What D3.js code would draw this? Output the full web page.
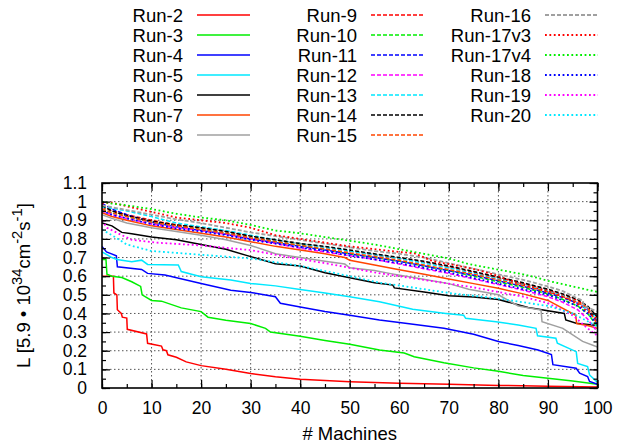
<!DOCTYPE html>
<html>
<head>
<meta charset="utf-8">
<script src="https://cdn.jsdelivr.net/npm/d3@7"></script>
<style>
  body { margin: 0; background: #fff; }
  text { font-family: "Liberation Sans", Arial, Helvetica, sans-serif; }
</style>
</head>
<body>
<div id="chart"></div>
<script>
// luminosity vs number of machines, one array per run: [machine, L]
var run2 = [[0,0.60],[2.3,0.60],[2.4,0.51],[3.0,0.50],[3.1,0.42],[3.9,0.40],[4.1,0.38],[5.0,0.375],[5.1,0.315],[9.0,0.29],[9.2,0.24],[12.0,0.225],[12.3,0.205],[13.0,0.20],[13.3,0.178],[15,0.165],[17,0.14],[20,0.12],[25,0.10],[30,0.078],[35,0.06],[40,0.047],[45,0.04],[50,0.034],[55,0.03],[60,0.026],[70,0.02],[80,0.014],[90,0.01],[100,0.006]];
var run3 = [[0,0.69],[0.8,0.69],[1.0,0.61],[2,0.60],[4,0.593],[6,0.57],[7.8,0.545],[8.1,0.50],[10,0.47],[12,0.466],[16,0.43],[20,0.41],[21.4,0.38],[25,0.364],[30,0.346],[33,0.32],[34,0.30],[40,0.278],[45,0.255],[50,0.235],[56,0.204],[61,0.188],[63,0.168],[69,0.135],[75,0.108],[80,0.09],[85,0.067],[90,0.052],[95,0.038],[100,0.02]];
var run4 = [[0,0.76],[0.9,0.73],[2.9,0.71],[3.1,0.65],[8,0.636],[9.2,0.615],[12.7,0.606],[20,0.561],[26,0.525],[30,0.513],[35,0.49],[36,0.455],[40,0.435],[45,0.41],[50,0.39],[56,0.365],[62,0.345],[69,0.32],[75,0.288],[80,0.25],[84,0.228],[88,0.204],[90.7,0.18],[91,0.125],[95.7,0.106],[96.4,0.08],[98,0.062],[98.4,0.035],[100,0.02]];
var run5 = [[0,0.73],[2,0.70],[3,0.69],[6,0.678],[8,0.686],[9.2,0.663],[15.4,0.66],[16,0.625],[20,0.597],[26,0.579],[30,0.561],[35,0.548],[40,0.529],[45,0.51],[50,0.49],[56,0.463],[62.7,0.422],[69.4,0.40],[73,0.39],[73.4,0.374],[79.5,0.356],[84,0.338],[87.6,0.32],[87.9,0.28],[91.6,0.267],[91.9,0.24],[95.7,0.195],[96,0.132],[98,0.115],[98.4,0.07],[100,0.03]];
var run6 = [[0,0.885],[2,0.87],[4,0.835],[6,0.828],[10,0.81],[15,0.795],[20,0.77],[25,0.745],[30,0.705],[35,0.667],[40,0.655],[45,0.618],[50,0.592],[55,0.565],[58.7,0.552],[59,0.537],[65,0.515],[70,0.495],[75,0.488],[80,0.475],[86,0.432],[93.3,0.40],[93.6,0.365],[95.7,0.348],[100,0.335]];
var run7 = [[0,0.94],[2,0.92],[5,0.90],[10,0.87],[15,0.85],[20,0.83],[25,0.81],[30,0.785],[35,0.76],[40,0.74],[45,0.72],[49,0.70],[50,0.685],[55,0.66],[60,0.635],[65,0.61],[70,0.585],[75,0.56],[80,0.535],[85,0.505],[90,0.47],[95.6,0.39],[95.8,0.345],[98,0.335],[100,0.32]];
var run8 = [[0,0.93],[2,0.91],[5,0.885],[10,0.86],[15,0.84],[20,0.82],[25,0.795],[30,0.765],[35,0.72],[40,0.70],[45,0.68],[49,0.665],[50,0.645],[55,0.63],[58,0.615],[64,0.588],[70,0.56],[74,0.53],[80,0.50],[84,0.44],[88.6,0.418],[88.8,0.356],[93,0.32],[97,0.25],[100,0.22]];
var run9 = [[0,0.97],[2,0.95],[5,0.93],[10,0.90],[15,0.875],[20,0.86],[25,0.84],[30,0.815],[35,0.795],[40,0.775],[45,0.755],[50,0.735],[55,0.715],[60,0.695],[65,0.675],[70,0.65],[75,0.62],[80,0.59],[85,0.56],[90,0.525],[93,0.50],[96,0.47],[98,0.43],[100,0.36]];
var run10 = [[0,0.96],[2,0.94],[5,0.92],[10,0.89],[15,0.87],[20,0.85],[25,0.83],[30,0.805],[35,0.785],[40,0.765],[45,0.745],[50,0.72],[55,0.70],[60,0.68],[65,0.655],[70,0.63],[75,0.60],[80,0.57],[85,0.54],[90,0.505],[93,0.475],[96,0.44],[98,0.40],[100,0.33]];
var run11 = [[0,0.99],[2,0.96],[5,0.93],[10,0.89],[15,0.865],[20,0.845],[25,0.825],[30,0.80],[35,0.78],[40,0.76],[45,0.74],[50,0.72],[55,0.70],[60,0.68],[65,0.655],[70,0.63],[75,0.605],[80,0.575],[85,0.545],[90,0.51],[93,0.485],[96,0.455],[98,0.42],[100,0.35]];
var run12 = [[0,0.95],[2,0.93],[5,0.91],[10,0.88],[15,0.86],[20,0.845],[25,0.825],[30,0.80],[35,0.775],[40,0.75],[45,0.73],[50,0.71],[55,0.69],[60,0.665],[65,0.64],[70,0.615],[75,0.585],[80,0.555],[85,0.525],[90,0.49],[93,0.46],[96,0.42],[98,0.37],[100,0.30]];
var run13 = [[0,0.97],[2,0.965],[5,0.95],[10,0.92],[15,0.885],[20,0.865],[25,0.845],[30,0.82],[35,0.795],[40,0.775],[45,0.755],[50,0.735],[55,0.715],[60,0.695],[65,0.67],[70,0.645],[75,0.615],[80,0.585],[85,0.555],[90,0.52],[93,0.495],[96,0.46],[98,0.42],[100,0.37]];
var run14 = [[0,0.98],[2,0.95],[5,0.925],[10,0.895],[15,0.875],[20,0.86],[25,0.84],[30,0.815],[35,0.795],[40,0.775],[45,0.76],[50,0.74],[55,0.72],[60,0.70],[65,0.68],[70,0.655],[75,0.625],[80,0.595],[85,0.565],[90,0.53],[93,0.505],[96,0.475],[98,0.44],[100,0.38]];
var run15 = [[0,0.96],[2,0.94],[5,0.92],[10,0.89],[15,0.87],[20,0.85],[25,0.83],[30,0.805],[35,0.785],[40,0.765],[45,0.745],[50,0.725],[55,0.705],[60,0.685],[65,0.66],[70,0.635],[75,0.61],[80,0.58],[85,0.55],[90,0.515],[93,0.49],[96,0.46],[98,0.43],[100,0.34]];
var run16 = [[0,0.98],[2,0.97],[5,0.955],[10,0.93],[15,0.905],[20,0.885],[25,0.86],[30,0.835],[35,0.815],[40,0.795],[45,0.775],[50,0.755],[55,0.735],[60,0.72],[65,0.70],[70,0.67],[75,0.64],[80,0.61],[85,0.58],[90,0.545],[93,0.52],[96,0.48],[97,0.47],[97.3,0.44],[100,0.41]];
var run17v3 = [[0,0.99],[2,0.995],[5,0.975],[10,0.945],[15,0.915],[20,0.90],[25,0.885],[30,0.86],[35,0.82],[40,0.80],[45,0.78],[50,0.76],[55,0.745],[60,0.73],[63,0.723],[66.8,0.68],[70,0.665],[76,0.633],[80,0.60],[82,0.58],[85,0.555],[90,0.52],[93,0.49],[96,0.45],[98,0.41],[100,0.37]];
var run17v4 = [[0,1.0],[2,0.99],[5,0.98],[10,0.96],[15,0.935],[20,0.915],[25,0.90],[30,0.875],[35,0.845],[40,0.83],[45,0.81],[50,0.79],[55,0.77],[60,0.745],[65,0.72],[70,0.695],[74,0.665],[80,0.635],[85,0.61],[88,0.59],[90,0.575],[95,0.545],[100,0.515]];
var run18 = [[0,0.95],[2,0.93],[5,0.91],[10,0.88],[15,0.855],[20,0.84],[25,0.82],[30,0.795],[35,0.775],[40,0.755],[45,0.735],[50,0.71],[55,0.69],[60,0.67],[65,0.645],[70,0.62],[75,0.59],[80,0.56],[85,0.53],[90,0.50],[93,0.47],[96,0.44],[98,0.40],[100,0.34]];
var run19 = [[0,0.90],[1,0.86],[4,0.82],[6,0.795],[11,0.78],[20,0.765],[25,0.752],[30,0.74],[38,0.70],[45,0.67],[50,0.645],[55,0.62],[60,0.60],[65,0.58],[70,0.56],[75,0.54],[80,0.515],[85,0.49],[90,0.455],[95,0.39],[98,0.32],[100,0.28]];
var run20 = [[0,0.85],[2,0.82],[5,0.77],[10,0.735],[20,0.715],[30,0.695],[40,0.655],[50,0.60],[56,0.565],[60,0.55],[70,0.51],[80,0.48],[90,0.44],[95,0.40],[100,0.33]];

var runNames = ["Run-2","Run-3","Run-4","Run-5","Run-6","Run-7","Run-8",
                "Run-9","Run-10","Run-11","Run-12","Run-13","Run-14","Run-15",
                "Run-16","Run-17v3","Run-17v4","Run-18","Run-19","Run-20"];
var runData = [run2,run3,run4,run5,run6,run7,run8,
               run9,run10,run11,run12,run13,run14,run15,
               run16,run17v3,run17v4,run18,run19,run20];
var xTicks = [0,10,20,30,40,50,60,70,80,90,100];
var yTicks = [0,0.1,0.2,0.3,0.4,0.5,0.6,0.7,0.8,0.9,1,1.1];

// styles (gnuplot-like)
var runColors = ["#ff0000","#00ee00","#0000ff","#00e8ff","#000000","#ff4500","#a0a0a0",
                 "#ff0000","#00ee00","#0000ff","#ff00ff","#00e8ff","#000000","#ff4500",
                 "#a0a0a0","#ff0000","#00ee00","#0000ff","#ff00ff","#00e8ff"];
var runDash = runNames.map(function(d, i) {
  if (i < 7) return null;
  if (i < 15) return "4,2";
  return "1.8,2.6";
});

var W = 618, H = 447;
var plot = {left: 102, right: 597.5, top: 183, bottom: 388};
var FS = 18.5, TFS = 17.5;

var svg = d3.select("#chart").append("svg")
  .attr("width", W).attr("height", H);

var x = d3.scaleLinear().domain([0, 100]).range([plot.left, plot.right]);
var y = d3.scaleLinear().domain([0, 1.1]).range([plot.bottom, plot.top]);

// grid
var grid = svg.append("g").attr("stroke", "#555").attr("stroke-width", 1)
  .attr("stroke-dasharray", "1.5,2.5");
grid.selectAll("line.gx").data(xTicks.slice(1, -1)).enter().append("line")
  .attr("x1", function(d) { return x(d); }).attr("x2", function(d) { return x(d); })
  .attr("y1", plot.top).attr("y2", plot.bottom);
grid.selectAll("line.gy").data(yTicks.slice(1, -1)).enter().append("line")
  .attr("x1", plot.left).attr("x2", plot.right)
  .attr("y1", function(d) { return y(d); }).attr("y2", function(d) { return y(d); });

// clip
svg.append("clipPath").attr("id", "clip").append("rect")
  .attr("x", plot.left).attr("y", plot.top)
  .attr("width", plot.right - plot.left).attr("height", plot.bottom - plot.top);

// series
var line = d3.line()
  .x(function(d) { return x(d[0]); })
  .y(function(d) { return y(d[1]); });

svg.append("g").attr("clip-path", "url(#clip)")
  .selectAll("path").data(runData).enter().append("path")
    .attr("d", line)
    .attr("fill", "none")
    .attr("stroke", function(d, i) { return runColors[i]; })
    .attr("stroke-width", function(d, i) { return i >= 14 ? 1.8 : 1.5; })
    .attr("stroke-dasharray", function(d, i) { return runDash[i]; });

// axes (ticks inside, mirrored)
var fmt = function(d) { return String(+d.toFixed(1)); };
var xMinor = d3.range(0, 21).map(function(i) { return i * 5; });
var yMinor = d3.range(0, 23).map(function(i) { return i * 0.05; });

function styleAxis(g) {
  g.select(".domain").remove();
  g.selectAll(".tick line").attr("stroke", "#000").attr("stroke-width", 1.2);
  g.selectAll("text").attr("font-size", TFS).attr("font-family", "'Liberation Sans', Arial, sans-serif")
    .attr("fill", "#000");
}

svg.append("g").attr("transform", "translate(0," + plot.bottom + ")")
  .call(d3.axisBottom(x).tickValues(xTicks).tickFormat(fmt).tickSizeInner(-8).tickSizeOuter(0).tickPadding(14))
  .call(styleAxis);
svg.append("g").attr("transform", "translate(0," + plot.bottom + ")")
  .call(d3.axisBottom(x).tickValues(xMinor).tickFormat("").tickSizeInner(-4).tickSizeOuter(0))
  .call(styleAxis);
svg.append("g").attr("transform", "translate(0," + plot.top + ")")
  .call(d3.axisTop(x).tickValues(xTicks).tickFormat("").tickSizeInner(-8).tickSizeOuter(0))
  .call(styleAxis);
svg.append("g").attr("transform", "translate(0," + plot.top + ")")
  .call(d3.axisTop(x).tickValues(xMinor).tickFormat("").tickSizeInner(-4).tickSizeOuter(0))
  .call(styleAxis);

svg.append("g").attr("transform", "translate(" + plot.left + ",0)")
  .call(d3.axisLeft(y).tickValues(yTicks).tickFormat(fmt).tickSizeInner(-8).tickSizeOuter(0).tickPadding(15))
  .call(styleAxis);
svg.append("g").attr("transform", "translate(" + plot.left + ",0)")
  .call(d3.axisLeft(y).tickValues(yMinor).tickFormat("").tickSizeInner(-4).tickSizeOuter(0))
  .call(styleAxis);
svg.append("g").attr("transform", "translate(" + plot.right + ",0)")
  .call(d3.axisRight(y).tickValues(yTicks).tickFormat("").tickSizeInner(-8).tickSizeOuter(0))
  .call(styleAxis);
svg.append("g").attr("transform", "translate(" + plot.right + ",0)")
  .call(d3.axisRight(y).tickValues(yMinor).tickFormat("").tickSizeInner(-4).tickSizeOuter(0))
  .call(styleAxis);

// border
svg.append("rect")
  .attr("x", plot.left).attr("y", plot.top)
  .attr("width", plot.right - plot.left).attr("height", plot.bottom - plot.top)
  .attr("fill", "none").attr("stroke", "#000").attr("stroke-width", 1.6);

// axis titles
svg.append("text")
  .attr("x", (plot.left + plot.right) / 2).attr("y", 440)
  .attr("text-anchor", "middle").attr("font-size", FS)
  .text("# Machines");

var yl = svg.append("text")
  .attr("transform", "translate(30," + ((plot.top + plot.bottom) / 2) + ") rotate(-90)")
  .attr("text-anchor", "middle").attr("font-size", FS);
yl.append("tspan").text("L [5.9 \u2022 10");
yl.append("tspan").attr("font-size", FS * 0.8).attr("dy", -8).text("34");
yl.append("tspan").attr("dy", 8).text("cm");
yl.append("tspan").attr("font-size", FS * 0.8).attr("dy", -8).text("-2");
yl.append("tspan").attr("dy", 8).text("s");
yl.append("tspan").attr("font-size", FS * 0.8).attr("dy", -8).text("-1");
yl.append("tspan").attr("dy", 8).text("]");

// legend, three columns
var colRight = [183, 357, 531];
var legend = svg.append("g");
runNames.forEach(function(name, i) {
  var col = Math.floor(i / 7), row = i % 7;
  var cy = 15 + row * 20;
  legend.append("text")
    .attr("x", colRight[col]).attr("y", cy).attr("dy", "0.36em")
    .attr("text-anchor", "end").attr("font-size", FS)
    .text(name);
  legend.append("line")
    .attr("x1", colRight[col] + 14).attr("x2", colRight[col] + 67)
    .attr("y1", cy).attr("y2", cy)
    .attr("stroke", runColors[i]).attr("stroke-width", i >= 14 ? 1.8 : 1.5)
    .attr("stroke-dasharray", runDash[i]);
});
</script>
</body>
</html>
